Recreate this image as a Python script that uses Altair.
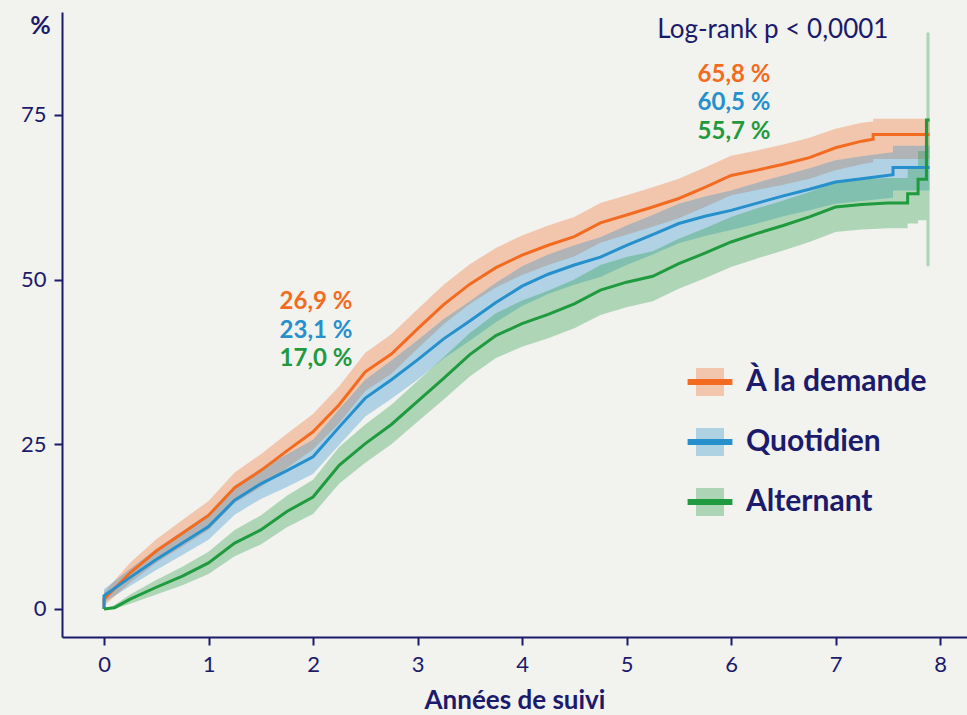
import altair as alt
import pandas as pd

NAVY = "#1b1a6b"
BG = "#f2f2ef"
FONT = "Lato"

groups = ["À la demande", "Quotidien", "Alternant"]
colors = ["#f26b21", "#2590cc", "#1f9a3e"]

# Cumulative incidence (%) by years of follow-up, with confidence limits
t_dem = [0, 0, 0.25, 0.5, 0.75, 1, 1.25, 1.5, 1.75, 2, 2.25, 2.5, 2.75, 3, 3.25, 3.5, 3.75, 4,
         4.25, 4.5, 4.75, 5, 5.25, 5.5, 5.75, 6, 6.25, 6.5, 6.75, 7, 7.25, 7.36, 7.36, 7.9]
v_dem = [0, 1.5, 5.5, 8.8, 11.5, 14.2, 18.4, 21, 24, 26.9, 31, 36, 38.7, 42.5, 46.2, 49.3, 51.8, 53.7,
         55.2, 56.5, 58.6, 59.8, 61, 62.3, 64, 65.8, 66.6, 67.5, 68.5, 70, 71, 71.3, 72, 72]
lo_dem = [0, 0.5, 4.0, 7.0, 9.5, 12.0, 16.1, 18.5, 21.4, 24.2, 28.2, 33.1, 35.7, 39.5, 43.2, 46.3, 48.8, 50.7,
          52.2, 53.5, 55.6, 56.8, 58, 59.3, 61, 62.8, 63.6, 64.4, 65.3, 66.6, 67.5, 67.8, 68.3, 68.3]
hi_dem = [0, 2.5, 7.0, 10.6, 13.5, 16.4, 20.7, 23.5, 26.6, 29.6, 33.8, 38.9, 41.7, 45.5, 49.2, 52.3, 54.8, 56.7,
          58.2, 59.5, 61.6, 62.8, 64, 65.3, 67, 68.8, 69.6, 70.5, 71.5, 72.9, 73.8, 74.0, 74.4, 74.4]

t_quo = [0, 0, 0.25, 0.5, 0.75, 1, 1.25, 1.5, 1.75, 2, 2.25, 2.5, 2.75, 3, 3.25, 3.5, 3.75, 4,
         4.25, 4.5, 4.75, 5, 5.25, 5.5, 5.75, 6, 6.25, 6.5, 6.75, 7, 7.25, 7.55, 7.55, 7.9]
v_quo = [0, 2.0, 4.8, 7.5, 10, 12.5, 16.5, 19, 21, 23.1, 27.6, 32, 34.8, 37.8, 41, 43.7, 46.5, 49,
         50.8, 52.2, 53.4, 55.2, 56.8, 58.5, 59.6, 60.5, 61.6, 62.7, 63.7, 64.8, 65.3, 65.9, 67, 67]
lo_quo = [0, 1.0, 3.5, 5.9, 8.2, 10.5, 14.3, 16.7, 18.5, 20.5, 24.9, 29.2, 31.9, 34.8, 38, 40.7, 43.5, 46,
          47.8, 49.2, 50.4, 52.2, 53.8, 55.5, 56.6, 57.5, 58.5, 59.6, 60.5, 61.5, 61.9, 62.4, 63.5, 63.5]
hi_quo = [0, 3.0, 6.1, 9.1, 11.8, 14.5, 18.7, 21.3, 23.5, 25.7, 30.3, 34.8, 37.7, 40.8, 44, 46.7, 49.5, 52,
          53.8, 55.2, 56.4, 58.2, 59.8, 61.5, 62.6, 63.5, 64.7, 65.8, 66.9, 68.1, 68.7, 69.3, 70.3, 70.3]

t_alt = [0, 0.1, 0.25, 0.5, 0.75, 1, 1.25, 1.5, 1.75, 2, 2.25, 2.5, 2.75, 3, 3.25, 3.5, 3.75, 4,
         4.25, 4.5, 4.75, 5, 5.25, 5.5, 5.75, 6, 6.25, 6.5, 6.75, 7, 7.25, 7.5,
         7.69, 7.69, 7.79, 7.79, 7.87, 7.87, 7.9]
v_alt = [0, 0.2, 1.5, 3.3, 5, 7, 10, 12, 14.8, 17, 21.8, 25.1, 28, 31.5, 35, 38.6, 41.5, 43.3,
         44.7, 46.3, 48.4, 49.6, 50.5, 52.4, 54, 55.7, 57, 58.2, 59.5, 61, 61.4, 61.6,
         61.6, 63, 63, 65.2, 65.2, 74.2, 74.2]
lo_alt = [0, 0, 0.8, 2.2, 3.6, 5.3, 8.0, 9.8, 12.4, 14.4, 19.0, 22.2, 25.0, 28.4, 31.8, 35.3, 38.1, 39.8,
          41.1, 42.6, 44.6, 45.8, 46.7, 48.6, 50.2, 51.9, 53.2, 54.4, 55.7, 57.2, 57.6, 57.8,
          57.8, 58.5, 58.5, 59.0, 59.0, 52.0, 52.0]
hi_alt = [0, 0.6, 2.2, 4.4, 6.4, 8.7, 12.0, 14.2, 17.2, 19.6, 24.6, 28.0, 31.0, 34.6, 38.2, 41.9, 44.9, 46.8,
          48.3, 50.0, 52.2, 53.4, 54.3, 56.2, 57.8, 59.5, 60.8, 62.0, 63.3, 64.8, 65.2, 65.4,
          65.4, 67.0, 67.0, 69.5, 69.5, 87.5, 87.5]

series = [
    (groups[0], t_dem, v_dem, lo_dem, hi_dem),
    (groups[1], t_quo, v_quo, lo_quo, hi_quo),
    (groups[2], t_alt, v_alt, lo_alt, hi_alt),
]

rows = []
for name, ts, vs, los, his in series:
    for i, (t, v, lo, hi) in enumerate(zip(ts, vs, los, his)):
        rows.append({"groupe": name, "bande": name, "t": t, "v": v, "lo": lo, "hi": hi, "i": i})
df = pd.DataFrame(rows)


def pct(v):
    return f"{v:.1f}".replace(".", ",") + " %"


# Annotated values at 2 and 6 years, taken from the curves themselves
at2 = [vs[ts.index(2)] for _, ts, vs, _, _ in series]
at6 = [vs[ts.index(6)] for _, ts, vs, _, _ in series]
notes = pd.DataFrame({
    "t": [2] * 3 + [6] * 3,
    "txt": [pct(v) for v in at2] + [pct(v) for v in at6],
    "row": [0, 1, 2] * 2,
    "col": colors * 2,
    "top": [46.6] * 3 + [81.1] * 3,
})
notes["y"] = notes["top"] - notes["row"] * 4.35

logrank = pd.DataFrame({"t": [6.4], "y": [87.9], "txt": ["Log-rank p < 0,0001"]})

xscale = alt.Scale(domain=[-0.402, 8.258], nice=False, zero=False)
yscale = alt.Scale(domain=[-4.25, 90.6], nice=False, zero=False)

x_axis = alt.Axis(values=list(range(9)), format="d", title="Années de suivi", grid=False,
                  domainColor=NAVY, domainWidth=2, tickColor=NAVY, tickWidth=2, tickSize=8,
                  labelFont=FONT, labelFontSize=22, labelColor=NAVY, labelPadding=9,
                  titleFont=FONT, titleFontSize=26, titleFontWeight="bold", titleColor=NAVY,
                  titlePadding=12)
y_axis = alt.Axis(values=[0, 25, 50, 75], format="d", title="%", grid=False,
                  domainColor=NAVY, domainWidth=2, tickColor=NAVY, tickWidth=2, tickSize=8,
                  labelFont=FONT, labelFontSize=22, labelColor=NAVY, labelPadding=8,
                  titleFont=FONT, titleFontSize=25, titleFontWeight="bold", titleColor=NAVY,
                  titleAngle=0, titleAlign="center", titleBaseline="middle",
                  titleX=-22, titleY=13)

LEG_X, LEG_Y = 631, 353
SYM = "M-1.6,-1M1.6,1M-1,-1L1,-1L1,1L-1,1Z"       # square, widened bounds
LINE = "M-1.6,-1M1.6,1M-1.6,0L1.6,0"              # horizontal stroke, same bounds

legend_common = dict(title=None, orient="none", legendX=LEG_X, legendY=LEG_Y,
                     symbolSize=784, symbolStrokeWidth=6,
                     labelFont=FONT, labelFontSize=30, labelFontWeight="bold",
                     labelLimit=400, labelOffset=19, rowPadding=8, padding=0)
band_legend = alt.Legend(symbolType=SYM, symbolOpacity=0.32, symbolStrokeColor="transparent",
                         labelOpacity=0, **legend_common)
line_legend = alt.Legend(symbolType=LINE, symbolFillColor="transparent",
                         labelColor=NAVY, **legend_common)

bands = alt.Chart(df).mark_area(opacity=0.32).encode(
    x=alt.X("t:Q", scale=xscale, axis=x_axis),
    y=alt.Y("lo:Q", scale=yscale, axis=y_axis, stack=None),
    y2="hi:Q",
    fill=alt.Fill("bande:N", sort=groups, scale=alt.Scale(range=colors), legend=band_legend),
)

lines = alt.Chart(df).mark_line(strokeWidth=3).encode(
    x=alt.X("t:Q", scale=xscale),
    y=alt.Y("v:Q", scale=yscale),
    stroke=alt.Stroke("groupe:N", sort=groups, scale=alt.Scale(range=colors), legend=line_legend),
    order=alt.Order("i:Q"),
)

values_text = alt.Chart(notes).mark_text(font=FONT, fontSize=24, fontWeight="bold",
                                         align="center", baseline="middle", dx=3).encode(
    x=alt.X("t:Q", scale=xscale),
    y=alt.Y("y:Q", scale=yscale),
    text="txt:N",
    color=alt.Color("col:N", scale=None),
)

logrank_text = alt.Chart(logrank).mark_text(font=FONT, fontSize=26, color=NAVY,
                                            align="center", baseline="middle").encode(
    x=alt.X("t:Q", scale=xscale),
    y=alt.Y("y:Q", scale=yscale),
    text="txt:N",
)

chart = alt.layer(bands, lines, values_text, logrank_text).resolve_scale(
    fill="independent", stroke="independent", color="independent"
).properties(
    width=905, height=625, background=BG,
    padding={"left": 62, "top": 12, "right": 0, "bottom": 78},
    autosize=alt.AutoSizeParams(type="none"),
).configure_view(stroke=None)

chart.save("out.html", embed_options={"renderer": "svg", "actions": False})
